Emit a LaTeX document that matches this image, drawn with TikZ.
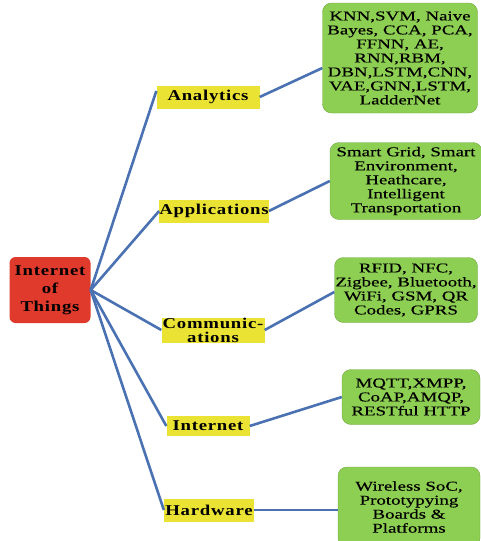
\documentclass[tikz,border=0pt]{standalone}
\usepackage{fontspec}
\setmainfont{Liberation Serif}
% wide serif faces for the boxes and tags
\newfontfamily\boxfont[FakeStretch=1.4,FakeBold=0.3]{Liberation Serif}
\newfontfamily\tagfont[FakeStretch=1.25,LetterSpace=5]{Liberation Serif}
\definecolor{rootred}{HTML}{DF3A2C}
\definecolor{tagyellow}{HTML}{EBE333}
\definecolor{leafgreen}{HTML}{8DCF52}
\definecolor{linkblue}{HTML}{4A72B2}
\tikzset{
  rootbox/.style={fill=rootred, rounded corners=6pt, align=center, inner sep=0pt,
    minimum width=81pt, minimum height=66pt,
    font=\tagfont\bfseries\fontsize{15}{18}\selectfont},
  tagbox/.style={fill=tagyellow, align=center, inner sep=0pt, minimum height=23pt,
    font=\tagfont\bfseries\fontsize{15}{14}\selectfont},
  leafbox/.style={fill=leafgreen, draw=leafgreen!80!black, line width=0.4pt,
    rounded corners=9pt, align=center, inner sep=0pt,
    font=\boxfont\fontsize{13.5}{14}\selectfont},
  link/.style={draw=linkblue, line width=2.6pt}
}
\begin{document}
\begin{tikzpicture}[x=1pt,y=-1pt]
\useasboundingbox (0,0) rectangle (481,541);
\clip (0,0) rectangle (481,541);

% root
\node[rootbox] (iot) at (50,290) {Internet\\of\\Things};

% category tags
\node[tagbox, minimum width=103pt] (ana) at (208,97) {Analytics};
\node[tagbox, minimum width=108pt] (app) at (214,211) {Applications};
\node[tagbox, minimum width=103pt, minimum height=25pt] (com) at (213,330) {Communic-\\ations};
\node[tagbox, minimum width=83pt, minimum height=20pt] (net) at (208,426) {Internet};
\node[tagbox, minimum width=90pt] (hw) at (209,510) {Hardware};

% leaf boxes
\node[leafbox, minimum width=155pt, minimum height=110pt] (g1) at (400,58)
  {KNN,SVM, Naive\\Bayes, CCA, PCA,\\FFNN, AE,\\RNN,RBM,\\DBN,LSTM,CNN,\\VAE,GNN,LSTM,\\LadderNet};
\node[leafbox, minimum width=152pt, minimum height=77pt] (g2) at (406,181)
  {Smart Grid, Smart\\Environment,\\Heathcare,\\Intelligent\\Transportation};
\node[leafbox, minimum width=143pt, minimum height=65pt] (g3) at (406,290)
  {RFID, NFC,\\Zigbee, Bluetooth,\\WiFi, GSM, QR\\Codes, GPRS};
\node[leafbox, minimum width=138pt, minimum height=55pt] (g4) at (411,397)
  {MQTT,XMPP,\\CoAP,AMQP,\\RESTful HTTP};
\node[leafbox, minimum width=142pt, minimum height=80pt] (g5) at (409,507)
  {Wireless SoC,\\Prototypying\\Boards \&\\Platforms};

% connectors from the root
\coordinate (hub) at (iot.east);
\draw[link] (hub) -- ([yshift=6pt]ana.west);
\draw[link] (hub) -- (app.west);
\draw[link] (hub) -- (com.west);
\draw[link] (hub) -- (net.west);
\draw[link] (hub) -- (hw.west);

% connectors to the leaves
\draw[link] (ana.east) -- ([yshift=-10pt]g1.west);
\draw[link] (app.east) -- (g2.west);
\draw[link] (com.east) -- ([yshift=-2pt]g3.west);
\draw[link] (net.east) -- (g4.west);
\draw[link] (hw.east) -- ([yshift=-3pt]g5.west);
\end{tikzpicture}
\end{document}
